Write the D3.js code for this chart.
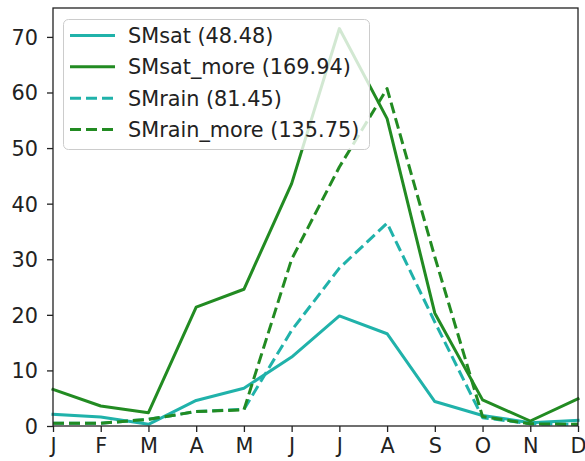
<!DOCTYPE html>
<html>
<head>
<meta charset="utf-8">
<script src="https://cdn.jsdelivr.net/npm/d3@7"></script>
<style>
  html, body { margin: 0; padding: 0; background: #fff; }
  svg { display: block; font-family: "DejaVu Sans", sans-serif; }
</style>
</head>
<body>
<svg id="chart" width="585" height="461"></svg>
<script>
// Monthly tick labels (Jan..Dec)
const months = ["J", "F", "M", "A", "M", "J", "J", "A", "S", "O", "N", "D"];
const yTicks = [0, 10, 20, 30, 40, 50, 60, 70];

// Monthly series values
const smsat      = [2.1, 1.6, 0.3, 4.6, 6.8, 12.4, 19.8, 16.6, 4.4, 1.9, 0.6, 1.0];
const smsatMore  = [6.6, 3.6, 2.4, 21.4, 24.6, 43.6, 71.5, 55.3, 20.3, 4.7, 0.9, 4.9];
const smrain     = [0.5, 0.5, 1.2, 2.6, 3.0, 17.2, 28.4, 36.5, 18.7, 1.5, 0.4, 0.3];
const smrainMore = [0.5, 0.5, 1.2, 2.6, 2.9, 30.0, 46.6, 60.7, 30.4, 1.7, 0.4, 0.3];

// Legend entries: label, data, colour, dashed?
const seriesNames  = ["SMsat (48.48)", "SMsat_more (169.94)", "SMrain (81.45)", "SMrain_more (135.75)"];
const seriesData   = [smsat, smsatMore, smrain, smrainMore];
const seriesColor  = ["#20b2aa", "#228b22", "#20b2aa", "#228b22"];
const seriesDashed = [false, false, true, true];

const svg = d3.select("#chart");
const margin = { left: 53, right: 7, top: 8, bottom: 35 };
const W = 585, H = 461;
const x0 = margin.left, x1 = W - margin.right;
const y0 = H - margin.bottom, y1 = margin.top;

const x = d3.scaleLinear().domain([0, 11]).range([x0, x1]);
const y = d3.scaleLinear().domain([0, 75.2]).range([y0, y1]);

const FS = 20.8;

// Lines
const line = d3.line().x((d, i) => x(i)).y(d => y(d));
const plot = svg.append("g");
seriesData.forEach((data, k) => {
  plot.append("path")
    .datum(data)
    .attr("d", line)
    .attr("fill", "none")
    .attr("stroke", seriesColor[k])
    .attr("stroke-width", 3)
    .attr("stroke-linejoin", "round")
    .attr("stroke-linecap", seriesDashed[k] ? "butt" : "square")
    .attr("stroke-dasharray", seriesDashed[k] ? "11,5" : null);
});

// Axes
const xAxis = d3.axisBottom(x)
  .tickValues(d3.range(months.length))
  .tickFormat(i => months[i])
  .tickSize(6).tickPadding(6);
const yAxis = d3.axisLeft(y)
  .tickValues(yTicks)
  .tickSize(6).tickPadding(9);

const gx = svg.append("g").attr("transform", `translate(0,${y0})`).call(xAxis);
const gy = svg.append("g").attr("transform", `translate(${x0},0)`).call(yAxis);
[gx, gy].forEach(g => {
  g.select(".domain").remove();
  g.selectAll(".tick line").attr("stroke", "#222").attr("stroke-width", 1.3);
  g.selectAll(".tick text")
    .attr("fill", "#222")
    .style("font-family", "DejaVu Sans, sans-serif")
    .style("font-size", FS + "px");
});
gy.selectAll(".tick text").attr("dy", "0.36em");

// Frame
svg.append("rect")
  .attr("x", x0).attr("y", y1)
  .attr("width", x1 - x0).attr("height", y0 - y1)
  .attr("fill", "none")
  .attr("stroke", "#222")
  .attr("stroke-width", 1.3);

// Legend
const lg = svg.append("g");
lg.append("rect")
  .attr("x", 63.5).attr("y", 19.5)
  .attr("width", 306).attr("height", 130)
  .attr("rx", 5).attr("ry", 5)
  .attr("fill", "#fff").attr("fill-opacity", 0.8)
  .attr("stroke", "#cccccc").attr("stroke-width", 1);

const rowY = d3.scaleLinear().domain([0, 3]).range([35.5, 129.5]);
seriesNames.forEach((name, k) => {
  const yy = rowY(k);
  lg.append("line")
    .attr("x1", 70).attr("x2", 115)
    .attr("y1", yy).attr("y2", yy)
    .attr("stroke", seriesColor[k])
    .attr("stroke-width", 3)
    .attr("stroke-dasharray", seriesDashed[k] ? "11,5" : null);
  lg.append("text")
    .attr("x", 128).attr("y", yy + 7.5)
    .attr("fill", "#222")
    .style("font-size", FS + "px")
    .text(name);
});
</script>
</body>
</html>
